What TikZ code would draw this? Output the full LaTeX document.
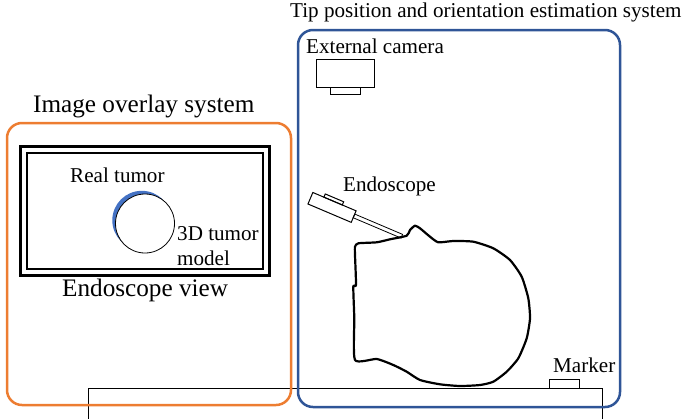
\documentclass[tikz,border=0pt]{standalone}
\usepackage{fontspec}
\setmainfont{Liberation Serif}
\usetikzlibrary{positioning}

\definecolor{overlayorange}{HTML}{ED7D31}
\definecolor{trackblue}{HTML}{2F5597}
\definecolor{tumorblue}{HTML}{4472C4}

\begin{document}
\begin{tikzpicture}[
  x=1pt, y=-1pt,
  txt/.style    = {anchor=base west, inner sep=0pt, font=\fontsize{21.1}{25}\selectfont},
  bigtxt/.style = {txt, font=\fontsize{25.2}{29}\selectfont},
  sysbox/.style = {line width=2.5pt, rounded corners=15pt},
  part/.style   = {draw, line width=1pt},
  outline/.style = {line width=2.2pt, line join=round}
]
  \useasboundingbox (0,0) rectangle (682,418);

  % operating table and marker
  \draw[part] (88,388) rectangle (602,440);
  \draw[part] (549,379) rectangle (579,388);
  \node[txt] (markerlabel) at (553,372) {Marker};

  % image overlay system
  \draw[sysbox, overlayorange] (7,123) rectangle (291,405);
  \node[bigtxt] (overlaytitle) at (33,112) {Image overlay system};
  \draw[line width=3pt] (20,146) rectangle (269,275);
  \draw[line width=1.1pt] (27,153) rectangle (263,269);
  \fill[tumorblue] (141.8,220.3) circle (29.5);
  \draw[fill=white, line width=0.8pt] (145,223.5) circle (29.5);
  \node[txt] (realtumor) at (70,182) {Real tumor};
  \node[txt] (tumor3d) at (177,240) {3D tumor};
  \node[txt] (tumormodel) at (177,265) {model};
  \node[bigtxt] (viewlabel) at (62,296) {Endoscope view};

  % tip position and orientation estimation system
  \draw[sysbox, trackblue] (298,30) rectangle (620,407);
  \node[txt] (tracktitle) at (290,17) {Tip position and orientation estimation system};
  \node[txt] (camlabel) at (306,53) {External camera};
  \draw[part] (316,59) rectangle (374,87);
  \draw[part] (330,87) rectangle (360,94);

  % endoscope
  \node[txt] (scopelabel) at (343,191) {Endoscope};
  \begin{scope}[shift={(310.5,198)}, rotate=-23]
    \draw[part] (0,-6) rectangle (47,6.5);
    \draw[part] (12,-6) rectangle (32,-9.5);
    \draw[line width=0.8pt] (47,-2.5) rectangle (99,1.5);
  \end{scope}

  % head
  \draw[outline] plot[smooth cycle, tension=0.35] coordinates {
    (355,246.7) (358.3,243.3) (376.7,242.3) (390,239.3) (406.7,235.7)
    (410,230) (415,225.7) (420,228.3) (430,236.7) (438.3,242.3)
    (453.3,241) (473.3,241.7) (493.3,248.3) (510,260) (521.7,276.7)
    (528.3,298.3) (530,318.3) (526.7,338.3) (518.3,358.3) (506.7,371.7)
    (493.3,381.7) (480,385) (460,386) (440,384.3) (420,380)
    (406.7,371.7) (393.3,365) (376.7,359) (355,360) (354.3,318.3)
    (353.3,286.7) (356,285) (355,255)};
\end{tikzpicture}
\end{document}
